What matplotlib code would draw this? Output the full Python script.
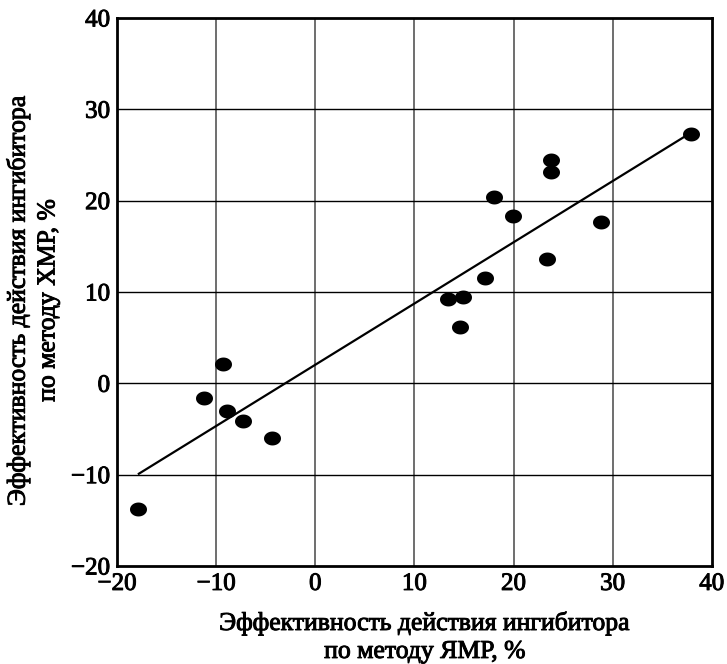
import matplotlib
matplotlib.use("Agg")
import matplotlib.pyplot as plt
import matplotlib.patheffects as pe
from matplotlib.path import Path
import numpy as np

x_ymr = [-17.9, -11.2, -9.3, -8.9, -7.3, -4.4, 13.4, 14.9, 14.6, 17.1, 18.0, 19.9, 23.4, 23.8, 23.8, 28.8, 37.9]
y_hmr = [-13.8, -1.6, 2.1, -3.0, -4.1, -6.0, 9.2, 9.4, 6.2, 11.5, 20.4, 18.3, 13.6, 23.1, 24.5, 17.7, 27.3]
line_x = [-17.8, 38.3]
line_y = [-9.9, 27.7]
xticks = [-20, -10, 0, 10, 20, 30, 40]
yticks = [-20, -10, 0, 10, 20, 30, 40]
xlabel = "Эффективность действия ингибитора\nпо методу ЯМР, %"
ylabel = "Эффективность действия ингибитора\nпо методу ХМР, %"

plt.rcParams['font.family'] = ['Liberation Serif', 'DejaVu Serif']

heavy = [pe.withStroke(linewidth=0.7, foreground="black")]

# slightly flattened ellipse marker
_t = np.linspace(0, 2 * np.pi, 41)
ell = Path(np.column_stack([np.cos(_t), 0.82 * np.sin(_t)]), closed=True)

fig = plt.figure(figsize=(7.27, 6.64), dpi=100)
ax = fig.add_axes([0.161, 0.1476, 0.818, 0.8254])
ax.set_xlim(-20, 40)
ax.set_ylim(-20, 40)
ax.set_xticks(xticks)
ax.set_yticks(yticks)
ax.set_xticklabels(["\u221220", "\u221210", "0", "10", "20", "30", "40"])
ax.set_yticklabels(["\u221220", "\u221210", "0", "10", "20", "30", "40"])
for xv in xticks[1:-1]:
    ax.axvline(xv, color="#555555", lw=1.2, zorder=1)
for yv in yticks[1:-1]:
    ax.axhline(yv, color="black", lw=1.0, zorder=1)
ax.tick_params(length=0, labelsize=18, pad=5)
for lab in ax.get_xticklabels() + ax.get_yticklabels():
    lab.set_path_effects(heavy)
for s in ax.spines.values():
    s.set_linewidth(2.0)

ax.plot(line_x, line_y, color="black", lw=1.6, zorder=2)
ax.scatter(x_ymr, y_hmr, s=150, color="black", marker=ell, linewidths=0, zorder=3)

xl = ax.set_xlabel(xlabel, fontsize=18.5, linespacing=1.35)
yl = ax.set_ylabel(ylabel, fontsize=18.5, linespacing=1.45)
ax.xaxis.set_label_coords(0.518, -0.083)
ax.yaxis.set_label_coords(-0.097, 0.485)
xl.set_path_effects(heavy)
yl.set_path_effects(heavy)

fig.savefig("out.png", dpi=100)
